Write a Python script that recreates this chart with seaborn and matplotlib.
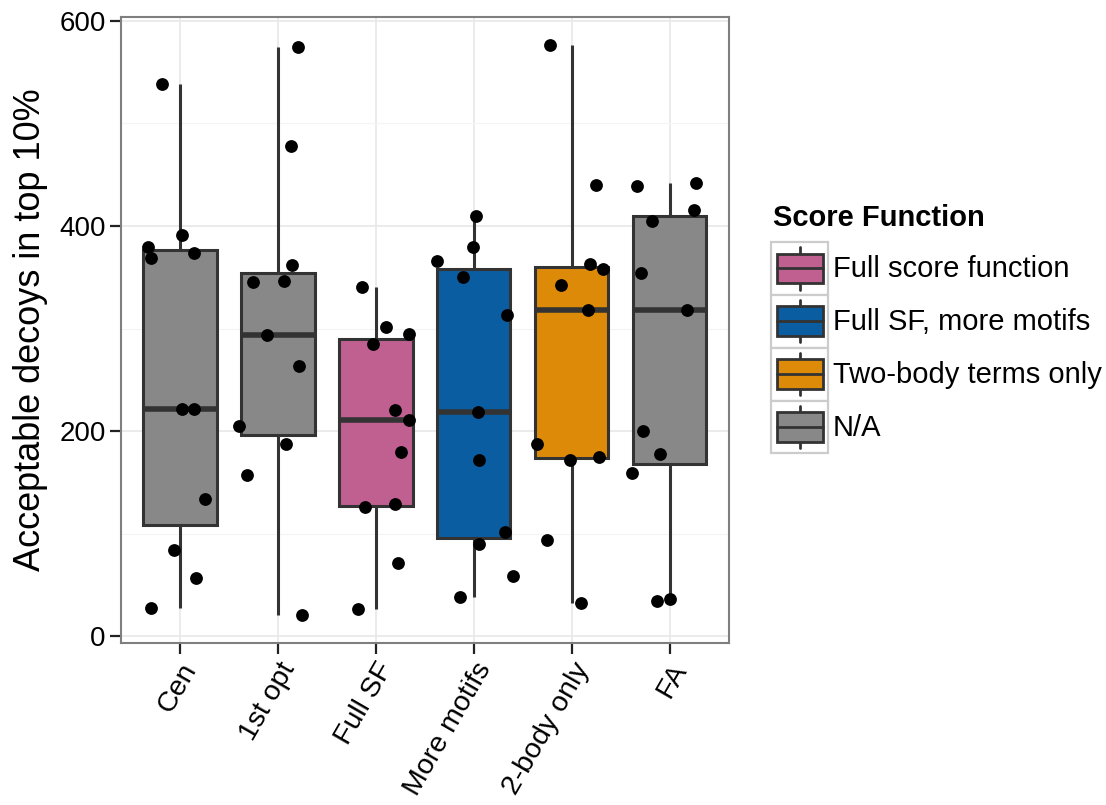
import numpy as np
import pandas as pd
import matplotlib
matplotlib.use("Agg")
import matplotlib.pyplot as plt
import seaborn as sns
from matplotlib.patches import Patch, Rectangle
from matplotlib.lines import Line2D
from matplotlib.legend_handler import HandlerBase
from matplotlib.ticker import MultipleLocator

# --- data -------------------------------------------------------------
categories = ["Cen", "1st opt", "Full SF", "More motifs", "2-body only", "FA"]

score_function = ["N/A", "N/A", "Full score function", "Full SF, more motifs",
                  "Two-body terms only", "N/A"]

cen_vals = [538, 391.5, 379, 369, 374, 222, 221.5, 133.5, 84, 56.5, 28]
opt1_vals = [574, 477.7, 362.3, 345.8, 346.5, 293.5, 263.8, 205, 187.3, 157.7, 21.2]
fullsf_vals = [340, 301.5, 294.6, 284.6, 220.4, 210.8, 180, 126.2, 128.8, 71.2, 26.5]
motifs_vals = [409.6, 379.6, 365.4, 350.4, 313, 218.5, 171.5, 101.5, 90, 59.2, 38]
twobody_vals = [576, 440, 362.7, 357.7, 342, 318.1, 187.3, 172, 175, 94.2, 32.7]
fa_vals = [438.5, 441.5, 415.4, 404.6, 353.8, 318.5, 200, 178, 158.8, 34.6, 36.2]

# horizontal jitter of each point (fraction of one category step)
cen_jit = [-0.18, 0.02, -0.32, -0.29, 0.14, 0.02, 0.15, 0.26, -0.06, 0.17, -0.29]
opt1_jit = [0.21, 0.13, 0.15, -0.25, 0.06, -0.11, 0.22, -0.40, 0.08, -0.31, 0.25]
fullsf_jit = [-0.14, 0.10, 0.34, -0.03, 0.20, 0.34, 0.26, -0.11, 0.20, 0.23, -0.18]
motifs_jit = [0.02, -0.01, -0.38, -0.11, 0.34, 0.04, 0.05, 0.32, 0.05, 0.40, -0.14]
twobody_jit = [-0.22, 0.25, 0.19, 0.32, -0.11, 0.17, -0.35, -0.02, 0.28, -0.25, 0.09]
fa_jit = [-0.33, 0.27, 0.25, -0.18, -0.29, 0.18, -0.27, -0.10, -0.38, -0.13, 0.00]

legend_title = "Score Function"
legend_labels = ["Full score function", "Full SF, more motifs", "Two-body terms only", "N/A"]
legend_colors = ["#C06090", "#0B5DA1", "#DE8A09", "#888888"]

# --- tidy frame ---------------------------------------------------------
all_vals = [cen_vals, opt1_vals, fullsf_vals, motifs_vals, twobody_vals, fa_vals]
all_jit = [cen_jit, opt1_jit, fullsf_jit, motifs_jit, twobody_jit, fa_jit]
rows = []
for i, (cat, sf, vals, jit) in enumerate(zip(categories, score_function, all_vals, all_jit)):
    for v, j in zip(vals, jit):
        rows.append({"Condition": cat, "Score Function": sf, "value": v, "xpos": i + j})
df = pd.DataFrame(rows)

sf_color = dict(zip(legend_labels, legend_colors))
cat_palette = {c: sf_color[s] for c, s in zip(categories, score_function)}

# --- style --------------------------------------------------------------
sns.set_style("white")
plt.rcParams["font.family"] = ["Liberation Sans", "DejaVu Sans"]
plt.rcParams["text.color"] = "black"
plt.rcParams["axes.labelcolor"] = "black"

W, H = 1106, 805
fig = plt.figure(figsize=(W / 100, H / 100), dpi=100)
ax = fig.add_axes([0.1094, 0.2012, 0.5493, 0.7776])

edge = "#333333"
sns.boxplot(data=df, x="Condition", y="value", hue="Condition", order=categories,
            hue_order=categories, palette=cat_palette, dodge=False, width=0.75,
            linecolor=edge, linewidth=2.2, showcaps=False, showfliers=False,
            whis=1.5, saturation=1, legend=False, ax=ax,
            medianprops={"linewidth": 4, "color": edge, "solid_capstyle": "butt"},
            zorder=2)

sns.scatterplot(data=df, x="xpos", y="value", color="black", s=85,
                linewidth=0, legend=False, ax=ax, zorder=4)

# axes limits / grid
ax.set_xlim(-0.6, len(categories) - 1 + 0.6)
ax.set_ylim(-6.5, 603.5)
ax.yaxis.set_major_locator(MultipleLocator(200))
ax.yaxis.set_minor_locator(MultipleLocator(100))
ax.set_xticks(range(len(categories)))
ax.set_xticklabels(categories)
ax.set_axisbelow(True)
ax.grid(which="major", axis="both", color="#E8E8E8", linewidth=1.2)
ax.grid(which="minor", axis="y", color="#F4F4F4", linewidth=0.8)

for sp in ax.spines.values():
    sp.set_visible(True)
    sp.set_color("#7F7F7F")
    sp.set_linewidth(1.5)

ax.tick_params(axis="both", which="major", length=8, width=1.6, color="#222222",
               labelsize=20, labelcolor="black", pad=3, left=True, bottom=True)
ax.tick_params(axis="x", labelsize=20.5)
ax.tick_params(axis="y", which="minor", length=0)

for lab in ax.get_xticklabels():
    lab.set_rotation(60)
    lab.set_ha("right")
    lab.set_va("top")
    lab.set_rotation_mode("anchor")

ax.set_xlabel("")
ax.set_ylabel("Acceptable decoys in top 10%", fontsize=26, labelpad=8)

# --- legend with boxplot keys -----------------------------------------
class BoxKeyHandler(HandlerBase):
    def create_artists(self, legend, orig_handle, xdescent, ydescent,
                       width, height, fontsize, trans):
        x0, y0 = -xdescent, -ydescent
        fc = orig_handle.get_facecolor()
        bg = Rectangle((x0, y0), width, height, facecolor="white",
                       edgecolor="#CCCCCC", linewidth=1.6, transform=trans)
        wl = Line2D([x0 + width / 2] * 2, [y0 + 0.1 * height, y0 + 0.9 * height],
                    color=edge, linewidth=2, transform=trans)
        bx = Rectangle((x0 + 0.1 * width, y0 + 0.22 * height), 0.8 * width,
                       0.56 * height, facecolor=fc, edgecolor=edge,
                       linewidth=2, transform=trans)
        md = Line2D([x0 + 0.1 * width, x0 + 0.9 * width], [y0 + height / 2] * 2,
                    color=edge, linewidth=2, transform=trans)
        return [bg, wl, bx, md]


fig.text(773 / W, 1 - 218 / H, legend_title, fontsize=21, fontweight="bold",
         color="black", ha="left", va="center")

handles = [Patch(facecolor=c, label=l) for c, l in zip(legend_colors, legend_labels)]
leg = fig.legend(handles=handles, loc="upper left",
                 bbox_to_anchor=(771 / W, 1 - 242 / H), frameon=False,
                 fontsize=21, handler_map={Patch: BoxKeyHandler()},
                 handlelength=1.97, handleheight=2.41, labelspacing=0.0,
                 handletextpad=0.15, borderpad=0.0, borderaxespad=0.0)
for t in leg.get_texts():
    t.set_color("black")

fig.savefig("out.png", dpi=100)
